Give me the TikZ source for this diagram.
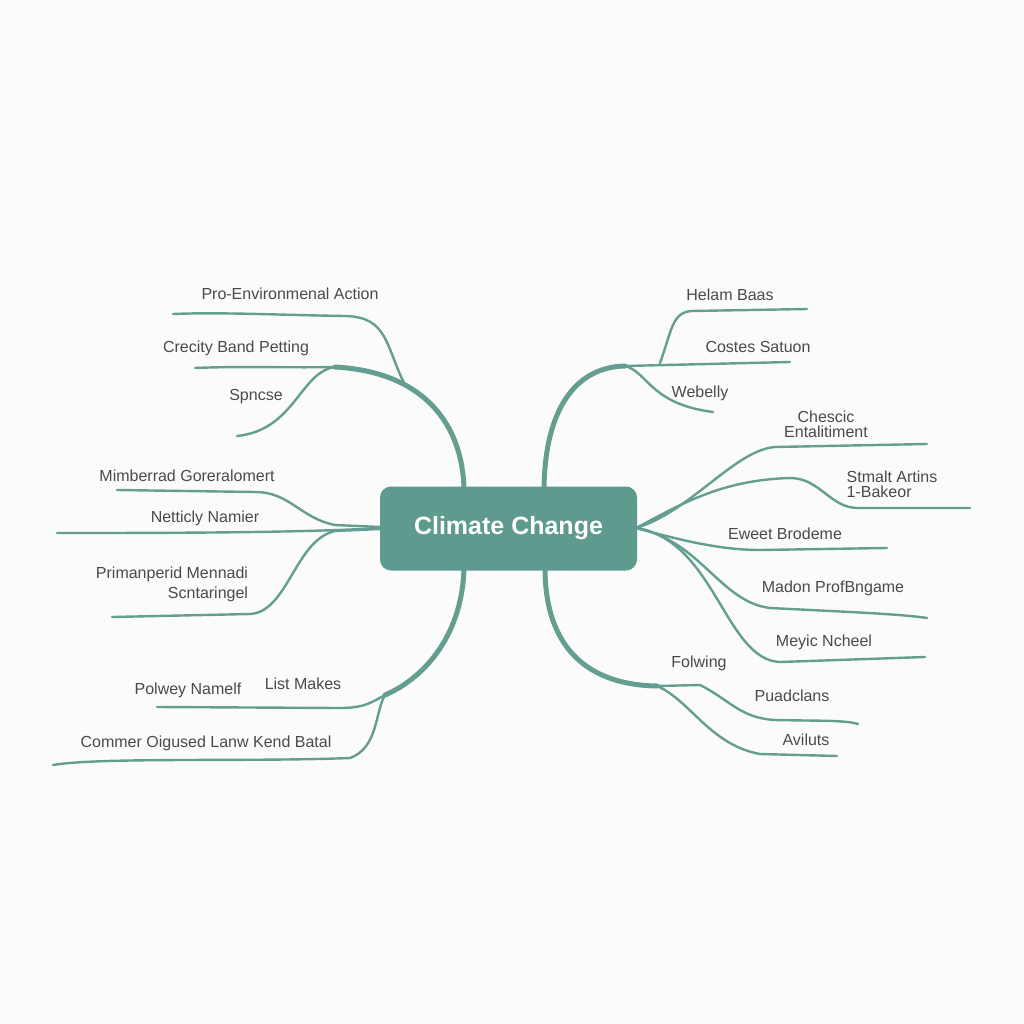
\documentclass[tikz,border=0pt]{standalone}
\usepackage{fontspec}
\setmainfont{Liberation Sans}
\definecolor{bgc}{HTML}{FBFBFB}
\definecolor{teal1}{HTML}{5E9A8D}
\definecolor{linec}{HTML}{649E91}
\definecolor{txt}{HTML}{4A4A4A}
\begin{document}
\begin{tikzpicture}[x=1pt,y=-1pt,
  trunk/.style={draw=linec,line width=5pt,line cap=round},
  branch/.style={draw=linec,line width=2.4pt,line cap=round},
  lbl/.style={text=txt,font=\fontsize{16}{18}\selectfont,inner sep=0pt,align=center},
  hubbox/.style={fill=teal1,rounded corners=11pt,minimum width=257pt,minimum height=84pt,
    text=white,font=\fontsize{25}{28}\selectfont\bfseries,inner sep=0pt}]
\fill[bgc] (0,0) rectangle (1024,1024);
\useasboundingbox (0,0) rectangle (1024,1024);

% ---- coordinates
\coordinate (ult) at (464,488);
\coordinate (ulb) at (335,367);
\coordinate (ulj) at (405,385);
\coordinate (pro) at (173,314);
\coordinate (cre) at (195,368);
\coordinate (spn) at (237,436);
\coordinate (mim) at (117,490);
\coordinate (net) at (57,533);
\coordinate (pri) at (112,617);
\coordinate (llt) at (464,568);
\coordinate (llj) at (385,695);
\coordinate (lis) at (157,707);
\coordinate (com) at (53,765);
\coordinate (urt) at (544,488);
\coordinate (urj) at (625,366);
\coordinate (urh) at (660,363);
\coordinate (cos) at (790,362);
\coordinate (hel) at (807,309);
\coordinate (web) at (713,412);
\coordinate (che) at (927,444);
\coordinate (stm) at (970,508);
\coordinate (ewe) at (887,548);
\coordinate (mad) at (927,618);
\coordinate (mey) at (925,657);
\coordinate (lrt) at (545,568);
\coordinate (lrj) at (657,686);
\coordinate (pua) at (858,724);
\coordinate (avi) at (837,756);

% ---- upper left
\draw[trunk] (ult) .. controls (462,425) and (425,372) .. (ulb);
\draw[branch] (ulb) .. controls (290,368) and (240,366) .. (cre);
\draw[branch] (ulj) .. controls (385,345) and (388,317) .. (345,316) .. controls (280,315) and (220,312) .. (pro);
\draw[branch] (ulb) .. controls (300,372) and (295,430) .. (spn);

% ---- left middle
\draw[branch] (380,527) -- (335,525) .. controls (300,518) and (290,492) .. (255,492) -- (mim);
\draw[branch] (380,528) .. controls (300,533) and (150,533) .. (net);
\draw[branch] (380,529) -- (335,531) .. controls (295,540) and (288,612) .. (250,614) -- (pri);

% ---- lower left
\draw[trunk] (llt) .. controls (462,640) and (420,680) .. (llj);
\draw[branch] (llj) .. controls (372,702) and (365,708) .. (340,708) -- (lis);
\draw[branch] (llj) .. controls (375,712) and (378,748) .. (350,758) .. controls (250,762) and (100,757) .. (com);

% ---- upper right
\draw[trunk] (urt) .. controls (545,410) and (575,367) .. (urj);
\draw[branch] (urj) -- (cos);
\draw[branch] (urh) .. controls (672,330) and (672,312) .. (692,311) -- (hel);
\draw[branch] (urj) .. controls (648,372) and (650,404) .. (web);

% ---- right middle
\draw[branch] (636,528) .. controls (690,512) and (735,450) .. (775,447) -- (che);
\draw[branch] (636,528) .. controls (680,505) and (720,480) .. (790,478) .. controls (820,478) and (830,508) .. (858,508) -- (stm);
\draw[branch] (636,528) .. controls (680,540) and (720,550) .. (760,550) -- (ewe);
\draw[branch] (636,528) .. controls (700,540) and (720,602) .. (770,608) .. controls (850,612) and (900,614) .. (mad);
\draw[branch] (636,528) .. controls (715,540) and (725,660) .. (780,662) -- (mey);

% ---- lower right
\draw[trunk] (lrt) .. controls (545,650) and (590,685) .. (lrj);
\draw[branch] (lrj) -- (700,685) .. controls (730,700) and (740,718) .. (775,720) .. controls (820,721) and (845,720) .. (pua);
\draw[branch] (lrj) .. controls (690,700) and (710,745) .. (760,754) -- (avi);

% ---- centre
\node[hubbox] (cc) at (508.5,528.5) {Climate Change};

% ---- labels
\node[lbl] (tpro) at (290,294) {Pro-Environmenal Action};
\node[lbl] (tcre) at (236,348) {Crecity Band Petting};
\node[lbl] (tspn) at (256,397) {Spncse};
\node[lbl] (tmim) at (187,476) {Mimberrad Goreralomert};
\node[lbl] (tnet) at (205,518) {Netticly Namier};
\node[lbl,align=right] (tpri) at (172,584) {Primanperid Mennadi\\[2pt] Scntaringel\hspace{13pt}};
\node[lbl] (tpol) at (188,690) {Polwey Namelf};
\node[lbl] (tlis) at (303,684) {List Makes};
\node[lbl] (tcom) at (206,743) {Commer Oigused Lanw Kend Batal};
\node[lbl] (thel) at (730,295) {Helam Baas};
\node[lbl] (tcos) at (758,347) {Costes Satuon};
\node[lbl] (tweb) at (700,393) {Webelly};
\node[lbl,align=center] (tche) at (826,424) {Chescic\\[-3pt]Entalitiment};
\node[lbl,align=left] (tstm) at (892,484) {Stmalt Artins\\[-3pt]1-Bakeor};
\node[lbl] (tewe) at (785,534) {Eweet Brodeme};
\node[lbl] (tmad) at (833,588) {Madon ProfBngame};
\node[lbl] (tmey) at (824,642) {Meyic Ncheel};
\node[lbl] (tfol) at (699,663) {Folwing};
\node[lbl] (tpua) at (792,696) {Puadclans};
\node[lbl] (tavi) at (806,740) {Aviluts};
\end{tikzpicture}
\end{document}
